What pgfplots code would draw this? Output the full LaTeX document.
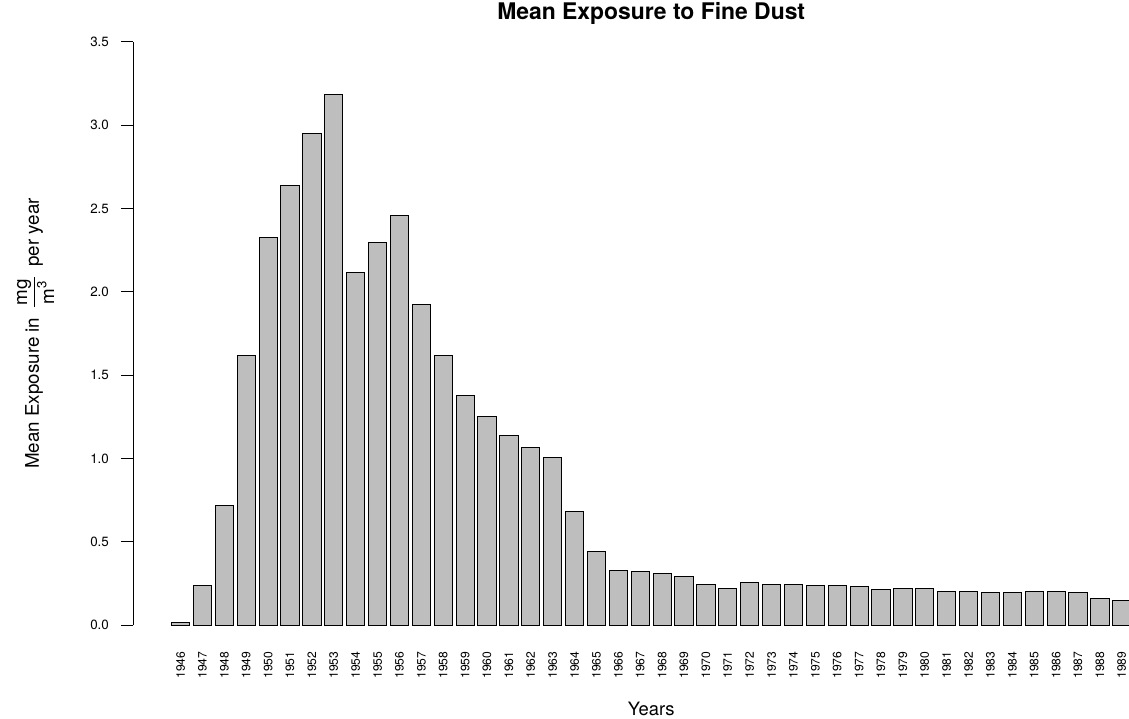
\documentclass[border=0pt]{standalone}
\usepackage{pgfplots}
\pgfplotsset{compat=1.18}
\usepackage{fontspec}
\setmainfont{TeX Gyre Heros}
\definecolor{bargray}{HTML}{BEBEBE}
\begin{document}
\begin{tikzpicture}
\begin{axis}[name=ax,
  x=10.945pt, y=83.285pt,
  xmin=1943.84, xmax=1991.16, ymin=0, ymax=3.5,
  axis x line=bottom, axis y line=left,
  x axis line style={draw=none},
  y axis line style={-, line width=0.5pt, black},
  xtick style={draw=none},
  ytick style={line width=0.5pt, black},
  tick align=outside, major tick length=6.15pt,
  ytick={0,0.5,1,1.5,2,2.5,3,3.5},
  yticklabel style={/pgf/number format/.cd, fixed, fixed zerofill, precision=1, assume math mode=true, /tikz/.cd, font=\fontsize{6.7}{8}\selectfont, inner sep=0pt, xshift=-5.85pt},
  xtick={1946,1947,...,1989},
  xticklabel style={/pgf/number format/.cd, 1000 sep={}, assume math mode=true, /tikz/.cd, rotate=90, anchor=east, font=\fontsize{6.05}{7}\selectfont, inner sep=0pt, xshift=-7pt},
  ybar, bar width=9.12pt,
  title={Mean Exposure to Fine Dust},
  title style={at={(axis description cs:0.5,1)}, anchor=base, yshift=5.15pt, font=\bfseries\fontsize{11.45}{13}\selectfont},
  xlabel={Years},
  xlabel style={at={(axis description cs:0.5,0)}, anchor=base, yshift=-45pt, font=\fontsize{9.2}{11}\selectfont},
  ylabel={Mean Exposure in\hspace{4pt}{$\displaystyle\frac{\mbox{\hspace{1pt}mg\hspace{1pt}}}{\mbox{\hspace{1pt}m\textsuperscript{3}\hspace{1pt}}}$}\hspace{4pt}per year},
  ylabel style={at={(axis description cs:-0.0944,0.5)}, anchor=center, font=\fontsize{9.4}{11}\selectfont},
]
\addplot[fill=bargray, draw=black, line width=0.5pt] coordinates {
(1946,0.018) (1947,0.240) (1948,0.715) (1949,1.615) (1950,2.327) (1951,2.637)
(1952,2.949) (1953,3.183) (1954,2.117) (1955,2.297) (1956,2.459) (1957,1.925)
(1958,1.615) (1959,1.375) (1960,1.249) (1961,1.139) (1962,1.068) (1963,1.004)
(1964,0.684) (1965,0.444) (1966,0.330) (1967,0.324) (1968,0.312) (1969,0.290)
(1970,0.246) (1971,0.218) (1972,0.254) (1973,0.242) (1974,0.244) (1975,0.236)
(1976,0.236) (1977,0.234) (1978,0.216) (1979,0.220) (1980,0.218) (1981,0.204)
(1982,0.204) (1983,0.194) (1984,0.196) (1985,0.204) (1986,0.202) (1987,0.196)
(1988,0.160) (1989,0.150)
};
\end{axis}
\pgfresetboundingbox
\path[use as bounding box] ([shift={(-66.65pt,-46.5pt)}]ax.south west) rectangle ++(564.5pt,359pt);
\end{tikzpicture}
\end{document}
